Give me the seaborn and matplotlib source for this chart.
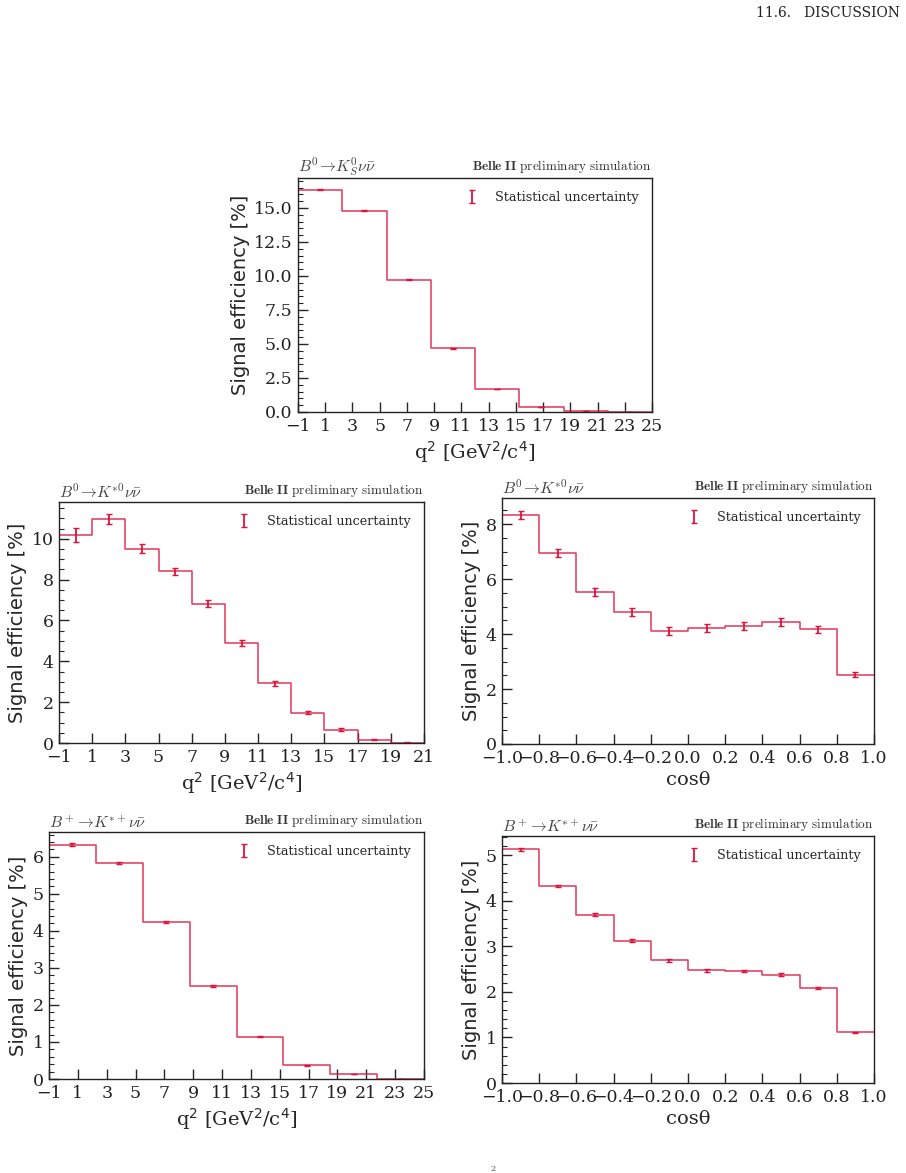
import numpy as np
import pandas as pd
import matplotlib
matplotlib.use('Agg')
import matplotlib.pyplot as plt
from matplotlib.ticker import AutoMinorLocator, MultipleLocator, FormatStrFormatter
import seaborn as sns

# Data (signal efficiency in %)
q2_edges_ks = [-1, 2.25, 5.5, 8.75, 12, 15.25, 18.5, 21.75, 25]
eff_ks_q2 = [16.35, 14.8, 9.72, 4.68, 1.68, 0.38, 0.05, 0.01]
err_ks_q2 = [0.05, 0.05, 0.04, 0.03, 0.02, 0.01, 0.01, 0.005]

q2_edges_kst0 = [-1, 1, 3, 5, 7, 9, 11, 13, 15, 17, 19, 21]
eff_kst0_q2 = [10.2, 10.95, 9.5, 8.4, 6.82, 4.88, 2.92, 1.48, 0.66, 0.17, 0.02]
err_kst0_q2 = [0.35, 0.25, 0.22, 0.18, 0.16, 0.14, 0.11, 0.07, 0.05, 0.03, 0.03]

cos_edges = [-1.0, -0.8, -0.6, -0.4, -0.2, 0.0, 0.2, 0.4, 0.6, 0.8, 1.0]
eff_kst0_cos = [8.33, 6.95, 5.53, 4.8, 4.1, 4.22, 4.3, 4.43, 4.18, 2.52]
err_kst0_cos = [0.16, 0.16, 0.15, 0.15, 0.15, 0.15, 0.15, 0.15, 0.13, 0.1]

q2_edges_kstp = [-1, 2.25, 5.5, 8.75, 12, 15.25, 18.5, 21.75, 25]
eff_kstp_q2 = [6.33, 5.84, 4.24, 2.51, 1.14, 0.37, 0.13, 0.0]
err_kstp_q2 = [0.04, 0.03, 0.03, 0.02, 0.015, 0.01, 0.008, 0.0]

eff_kstp_cos = [5.13, 4.32, 3.69, 3.12, 2.69, 2.47, 2.45, 2.38, 2.09, 1.11]
err_kstp_cos = [0.03, 0.03, 0.03, 0.03, 0.03, 0.03, 0.025, 0.025, 0.02, 0.015]

red = '#dc143c'

sns.set_style('ticks')
plt.rcParams['font.family'] = ['DejaVu Serif']
plt.rcParams['xtick.direction'] = 'in'
plt.rcParams['ytick.direction'] = 'in'
plt.rcParams['axes.edgecolor'] = '#222222'
plt.rcParams['axes.linewidth'] = 1.0

W, H = 906, 1173
fig = plt.figure(figsize=(W / 100, H / 100), dpi=100)


def box(l, r, t, b):
    return [l / W, 1 - b / H, (r - l) / W, (b - t) / H]


def eff_panel(rect, edges, eff, err, title, xlabel, xticks, ytop, ystep=None):
    ax = fig.add_axes(rect)
    e = np.array(edges, dtype=float)
    centers = (e[:-1] + e[1:]) / 2
    df = pd.DataFrame({'x': centers, 'w': eff})
    sns.histplot(data=df, x='x', weights='w', bins=list(edges), element='step', fill=False,
                 color=red, linewidth=1.1, alpha=0.85, ax=ax)
    ax.errorbar(centers, eff, yerr=err, fmt='none', ecolor=red, elinewidth=1.3,
                capsize=2, capthick=1.0, label='Statistical uncertainty')
    ax.set_xlim(e[0], e[-1])
    ax.set_ylim(0, ytop)
    ax.set_xticks(xticks)
    if ystep is not None:
        ax.yaxis.set_major_locator(MultipleLocator(ystep))
        ax.yaxis.set_major_formatter(FormatStrFormatter('%.1f'))
    ax.yaxis.set_minor_locator(AutoMinorLocator())
    ax.tick_params(axis='both', which='major', length=7, width=1, labelsize=12.5,
                   top=False, right=False, pad=4, labelcolor='#222222')
    ax.tick_params(axis='y', which='minor', length=3.5, width=0.8, right=False)
    ax.set_xlabel(xlabel, fontsize=14, labelpad=3)
    ax.set_ylabel('Signal efficiency [%]', fontsize=14, family='DejaVu Sans', labelpad=3)
    ax.text(0.0, 1.0, title, transform=ax.transAxes, ha='left', va='bottom',
            fontsize=11.5, math_fontfamily='cm', color='#444444')
    ax.text(1.0, 1.012, r'$\mathbf{Belle\ II}$ $\mathrm{preliminary\ simulation}$',
            transform=ax.transAxes, ha='right', va='bottom', fontsize=9.5,
            math_fontfamily='cm', color='#333333')
    ax.legend(loc='upper right', frameon=False, fontsize=9.2, handlelength=0.8,
              handletextpad=1.4, borderaxespad=0.6)
    for s in ax.spines.values():
        s.set_visible(True)
    return ax


q2_ticks_25 = [-1, 1, 3, 5, 7, 9, 11, 13, 15, 17, 19, 21, 23, 25]
q2_ticks_21 = [-1, 1, 3, 5, 7, 9, 11, 13, 15, 17, 19, 21]
cos_ticks = [-1.0, -0.8, -0.6, -0.4, -0.2, 0.0, 0.2, 0.4, 0.6, 0.8, 1.0]
q2_label = r'q$^2$ [GeV$^2$/c$^4$]'
cos_label = 'cosθ'

eff_panel(box(298, 652, 178, 412), q2_edges_ks, eff_ks_q2, err_ks_q2,
          r'$B^0\!\rightarrow\!K^0_S\nu\bar{\nu}$', q2_label, q2_ticks_25, 17.2, ystep=2.5)
eff_panel(box(59, 424, 502, 743), q2_edges_kst0, eff_kst0_q2, err_kst0_q2,
          r'$B^0\!\rightarrow\!K^{*0}\nu\bar{\nu}$', q2_label, q2_ticks_21, 11.8)
ax = eff_panel(box(502, 874, 498, 744), cos_edges, eff_kst0_cos, err_kst0_cos,
               r'$B^0\!\rightarrow\!K^{*0}\nu\bar{\nu}$', cos_label, cos_ticks, 8.95)
ax.set_xticklabels([f'{t:.1f}'.replace('-', '\u2212') for t in cos_ticks])
eff_panel(box(49, 424, 832, 1079), q2_edges_kstp, eff_kstp_q2, err_kstp_q2,
          r'$B^+\!\rightarrow\!K^{*+}\nu\bar{\nu}$', q2_label, q2_ticks_25, 6.67)
ax = eff_panel(box(502, 874, 836, 1083), cos_edges, eff_kstp_cos, err_kstp_cos,
               r'$B^+\!\rightarrow\!K^{*+}\nu\bar{\nu}$', cos_label, cos_ticks, 5.42)
ax.set_xticklabels([f'{t:.1f}'.replace('-', '\u2212') for t in cos_ticks])

# page header and the clipped caption fragment at the bottom
fig.text(900 / W, 1 - 13 / H, '11.6.   DISCUSSION', ha='right', va='center',
         fontsize=10, color='#222222')
fig.text(493 / W, 1 - 1169 / H, '2', ha='center', va='center', fontsize=6,
         color='#555555')

fig.savefig('out.png', dpi=100)
